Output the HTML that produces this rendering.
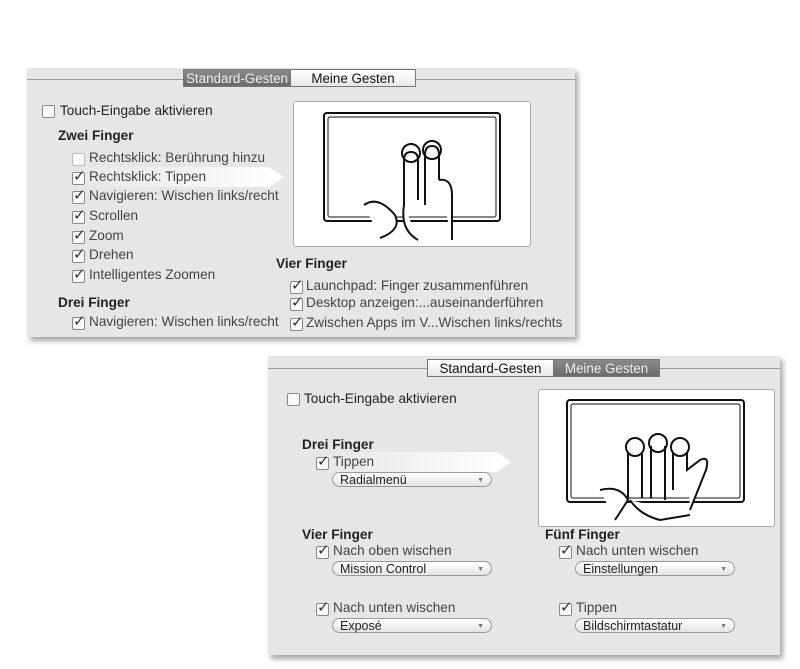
<!DOCTYPE html><html><head><meta charset="utf-8"><style>
body{margin:0;width:800px;height:669px;background:#fff;position:relative;overflow:hidden;font-family:"Liberation Sans",sans-serif;font-size:13.6px;color:#222}
.a{position:absolute;white-space:nowrap}
.p{position:absolute;background:#e6e6e6;box-shadow:3px 4px 5px rgba(0,0,0,.35)}
.line{position:absolute;height:1px;background:#999}
.tab{position:absolute;height:18px;line-height:18px;text-align:center;font-size:13.4px;border:1px solid #777;box-sizing:border-box}
.dk{background:linear-gradient(#8a8a8a,#6a6a6a);color:#eee}
.wt{background:linear-gradient(#fff,#e8e8e8);color:#111}
.b{font-weight:bold}
.cb{position:absolute;width:11px;height:11px;border:1px solid #888;border-radius:2px;background:#fafafa}
.ck::after{content:"✓";position:absolute;left:0;top:-6px;font-size:15px;color:#333}
.g{color:#444}
.dd{position:absolute;height:15px;border:1px solid #999;border-radius:8px;background:linear-gradient(#fff,#e4e4e4);font-size:12.5px;line-height:15px;padding-left:7px;box-sizing:border-box;color:#222}
.dd::after{content:"▼";position:absolute;right:7px;top:0;font-size:7px;color:#777}
.box{position:absolute;background:#fff;border:1px solid #aaa;border-radius:3px}
.arr{position:absolute;height:20px;background:linear-gradient(90deg,rgba(255,255,255,0),#fff);clip-path:polygon(0 0,93% 0,100% 50%,93% 100%,0 100%)}
</style></head><body>
<!-- panel 1 -->
<div class="p" style="left:27px;top:68px;width:548px;height:269px"></div>
<div class="line" style="left:27px;top:79px;width:548px"></div>
<div class="tab dk" style="left:183px;top:69px;width:108px">Standard-Gesten</div>
<div class="tab wt" style="left:290px;top:69px;width:126px">Meine Gesten</div>
<div class="cb" style="left:42px;top:105px"></div><div class="a" style="left:60px;top:103px">Touch-Eingabe aktivieren</div>
<div class="a b" style="left:58px;top:128px">Zwei Finger</div>
<div class="arr" style="left:70px;top:167px;width:214px"></div>
<div class="cb" style="left:72px;top:153px;border-color:#bbb"></div><div class="a g" style="left:89px;top:150px">Rechtsklick: Berührung hinzu</div>
<div class="cb ck" style="left:72px;top:172px"></div><div class="a g" style="left:89px;top:169px">Rechtsklick: Tippen</div>
<div class="cb ck" style="left:72px;top:191px"></div><div class="a g" style="left:89px;top:188px">Navigieren: Wischen links/recht</div>
<div class="cb ck" style="left:72px;top:211px"></div><div class="a g" style="left:89px;top:208px">Scrollen</div>
<div class="cb ck" style="left:72px;top:231px"></div><div class="a g" style="left:89px;top:228px">Zoom</div>
<div class="cb ck" style="left:72px;top:250px"></div><div class="a g" style="left:89px;top:247px">Drehen</div>
<div class="cb ck" style="left:72px;top:270px"></div><div class="a g" style="left:89px;top:267px">Intelligentes Zoomen</div>
<div class="a b" style="left:58px;top:295px">Drei Finger</div>
<div class="cb ck" style="left:72px;top:317px"></div><div class="a g" style="left:89px;top:314px">Navigieren: Wischen links/recht</div>
<div class="a b" style="left:276px;top:256px">Vier Finger</div>
<div class="cb ck" style="left:290px;top:281px"></div><div class="a g" style="left:306px;top:278px">Launchpad: Finger zusammenführen</div>
<div class="cb ck" style="left:290px;top:298px"></div><div class="a g" style="left:306px;top:295px">Desktop anzeigen:...auseinanderführen</div>
<div class="cb ck" style="left:290px;top:318px"></div><div class="a g" style="left:306px;top:315px">Zwischen Apps im V...Wischen links/rechts</div>
<div class="box" style="left:293px;top:101px;width:236px;height:144px"></div>
<svg class="a" style="left:0;top:0" width="800" height="669" fill="none" stroke="#111" stroke-width="2">
<rect x="324" y="113" width="176" height="108" rx="3"/><rect x="328" y="117" width="168" height="100" rx="2" stroke-width="1"/>
<path d="M404 160 V205 M418 160 V200 M425 155 V205 M439 155 V180 M439 180 Q452 178 452 195 V240 M364 205 Q378 195 395 215 Q402 230 380 238 M404 205 Q400 230 418 240" fill="#fff"/>
<path d="M404 160 Q404 152 411 152 Q418 152 418 160 M425 155 Q425 146 432 146 Q439 146 439 155" />
<circle cx="411" cy="153" r="9"/><circle cx="432" cy="150" r="9"/>
</svg>
<!-- panel 2 -->
<div class="p" style="left:268px;top:356px;width:512px;height:299px"></div>
<div class="line" style="left:268px;top:368px;width:512px"></div>
<div class="tab wt" style="left:427px;top:359px;width:127px">Standard-Gesten</div>
<div class="tab dk" style="left:553px;top:359px;width:107px">Meine Gesten</div>
<div class="cb" style="left:287px;top:393px"></div><div class="a" style="left:304px;top:391px">Touch-Eingabe aktivieren</div>
<div class="box" style="left:538px;top:389px;width:235px;height:136px"></div>
<svg class="a" style="left:0;top:0" width="800" height="669" fill="none" stroke="#111" stroke-width="2">
<rect x="567" y="400" width="177" height="102" rx="3"/><rect x="571" y="404" width="169" height="94" rx="2" stroke-width="1"/>
<path d="M628 452 V500 M642 452 V498 M651 446 V498 M665 446 V500 M673 452 V490 M687 452 V470 L700 460 Q710 455 706 470 L690 510 M600 490 Q620 485 628 500 L615 520 M630 500 Q640 515 660 520 L690 515" fill="#fff"/>
<circle cx="635" cy="447" r="9"/><circle cx="658" cy="443" r="9"/><circle cx="680" cy="447" r="9"/>
</svg>
<div class="arr" style="left:315px;top:452px;width:196px"></div>
<div class="a b" style="left:302px;top:437px">Drei Finger</div>
<div class="cb ck" style="left:316px;top:457px"></div><div class="a g" style="left:333px;top:454px">Tippen</div>
<div class="dd" style="left:332px;top:472px;width:160px">Radialmenü</div>
<div class="a b" style="left:302px;top:527px">Vier Finger</div>
<div class="cb ck" style="left:316px;top:546px"></div><div class="a g" style="left:333px;top:543px">Nach oben wischen</div>
<div class="dd" style="left:332px;top:561px;width:160px">Mission Control</div>
<div class="cb ck" style="left:316px;top:603px"></div><div class="a g" style="left:333px;top:600px">Nach unten wischen</div>
<div class="dd" style="left:332px;top:618px;width:160px">Exposé</div>
<div class="a b" style="left:545px;top:527px">Fünf Finger</div>
<div class="cb ck" style="left:559px;top:546px"></div><div class="a g" style="left:576px;top:543px">Nach unten wischen</div>
<div class="dd" style="left:575px;top:561px;width:160px">Einstellungen</div>
<div class="cb ck" style="left:559px;top:603px"></div><div class="a g" style="left:576px;top:600px">Tippen</div>
<div class="dd" style="left:575px;top:618px;width:160px">Bildschirmtastatur</div>
</body></html>
